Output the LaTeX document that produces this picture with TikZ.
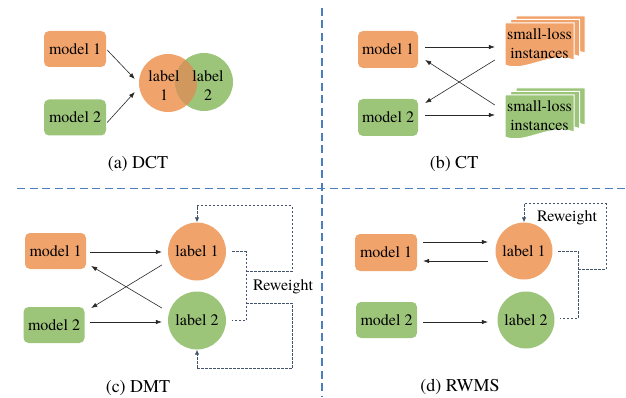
\documentclass[tikz,border=0pt]{standalone}
\usepackage{fontspec}
\setmainfont{texgyretermes-regular.otf}
\usetikzlibrary{arrows.meta,calc}

\definecolor{boxorange}{RGB}{241,163,108}
\definecolor{boxgreen}{RGB}{156,197,122}
\definecolor{mixbrown}{RGB}{208,152,92}
\definecolor{seplinecol}{RGB}{74,126,193}
\definecolor{rwcol}{RGB}{68,84,106}
\definecolor{arrcol}{RGB}{40,40,40}

% one sheet of a stacked-document icon, top-left corner at (#1,#2)
\newcommand\slpage[3]{%
  \fill[#3, draw=white, line width=1pt] (#1,#2) -- ++(69,0) -- ++(0,37)
    .. controls +(-24,-9) and +(20,8) .. ++(-69,5) -- cycle;}
\newcommand\slstack[3]{%
  \slpage{#1+11}{#2-7}{#3}\slpage{#1+5.5}{#2-3.5}{#3}\slpage{#1}{#2}{#3}}

\begin{document}
\begin{tikzpicture}[x=1pt,y=-1pt,
  txt/.style={font=\rmfamily\fontsize{16}{19}\selectfont, text=black},
  captxt/.style={font=\rmfamily\fontsize{18}{21}\selectfont, text=black},
  modelbox/.style={txt, rounded corners=5pt, minimum width=62pt, minimum height=36pt, inner sep=0pt},
  obox/.style={modelbox, fill=boxorange},
  gbox/.style={modelbox, fill=boxgreen},
  lab/.style={txt, circle, minimum size=58pt, inner sep=0pt},
  olab/.style={lab, fill=boxorange},
  glab/.style={lab, fill=boxgreen},
  arr/.style={arrcol, line width=0.6pt, -{Latex[length=6pt,width=4.5pt]}},
  rw/.style={rwcol, line width=0.8pt, dash pattern=on 2.5pt off 1.5pt},
  rwarr/.style={rw, -{Latex[length=5pt,width=4.5pt]}},
  sep/.style={seplinecol, line width=1.6pt, dash pattern=on 8pt off 4.5pt}]
\useasboundingbox (0,0) rectangle (626,398);

% separators between the four panels
\draw[sep] (17,188.5) -- (626,188.5);
\draw[sep] (322,8) -- (322,396);

% ---------------- (a) DCT ----------------
\node[obox] (am1) at (75,49) {model 1};
\node[gbox] (am2) at (75,117.5) {model 2};
\node[olab] (al1) at (168,83) {};
\node[glab] (al2) at (204,82) {};
\begin{scope}
  \clip (168,83) circle (29);
  \fill[mixbrown] (204,82) circle (29);
\end{scope}
\node[txt, align=center] (al1t) at (164,86) {label\\1};
\node[txt, align=center] (al2t) at (208,86) {label\\2};
\draw[arr] ($(am1.east)+(1,1)$) -- ($(al1.west)+(-4,-4)$);
\draw[arr] ($(am2.east)+(1,5)$) -- ($(al1.west)+(-4,9)$);
\node[captxt] (acap) at (138,164) {(a) DCT};

% ---------------- (b) CT ----------------
\node[obox, minimum width=60pt, minimum height=37pt] (bm1) at (388,49.5) {model 1};
\node[gbox, minimum width=60pt, minimum height=37pt] (bm2) at (388,117.5) {model 2};
\slstack{505}{23}{boxorange}
\slstack{505}{95}{boxgreen}
\node[txt, align=center, minimum width=69pt, minimum height=42pt, inner sep=0pt] (bsl1) at (539.5,44) {small-loss\\instances};
\node[txt, align=center, minimum width=69pt, minimum height=42pt, inner sep=0pt] (bsl2) at (539.5,116) {small-loss\\instances};
\draw[arr] ($(bm1.east)+(7,-2.5)$) -- ($(bsl1.west)+(-10,3)$);
\draw[arr] ($(bsl1.west)+(-10,16)$) -- ($(bm2.east)+(7,-14.5)$);
\draw[arr] ($(bsl2.west)+(-10,-11)$) -- ($(bm1.east)+(7,10.5)$);
\draw[arr] ($(bm2.east)+(7,-2.5)$) -- ($(bsl2.west)+(-10,-1)$);
\node[captxt] (bcap) at (454,164) {(b) CT};

% ---------------- (c) DMT ----------------
\node[obox, minimum width=61pt] (cm1) at (55.5,251) {model 1};
\node[gbox, minimum width=61pt] (cm2) at (54,325) {model 2};
\node[olab] (cl1) at (197,251.5) {label 1};
\node[glab] (cl2) at (197,320.5) {label 2};
\draw[arr] ($(cm1.east)+(4,1)$) -- ($(cl1.west)+(-6,0.5)$);
\draw[arr] ($(cl1.west)+(-6,13.5)$) -- ($(cm2.east)+(6.5,-17)$);
\draw[arr] ($(cl2.west)+(-6,-12.5)$) -- ($(cm1.east)+(5,15)$);
\draw[arr] ($(cm2.east)+(5.5,-3)$) -- ($(cl2.west)+(-6,1.5)$);
\draw[rw] ($(cl1.east)+(6,0)$) -| ($(cl2.east)+(20,0)$) -- ($(cl2.east)+(6,0)$);
\draw[rwarr] ($(cl1.east)+(20,19.5)$) -- ++(46,0) |- ($(cl1.north)+(0,-16.5)$) -- (cl1.north);
\draw[rwarr] ($(cl2.east)+(20,-17.5)$) -- ++(46,0) |- ($(cl2.south)+(0,19)$) -- (cl2.south);
\node[txt] (crw) at (283,287) {Reweight};
\node[captxt] (ccap) at (138,388) {(c) DMT};

% ---------------- (d) RWMS ----------------
\node[obox, minimum height=37pt] (dm1) at (386,252.5) {model 1};
\node[gbox, minimum width=61pt] (dm2) at (386.5,320) {model 2};
\node[olab, minimum size=57pt] (dl1) at (524,251) {label 1};
\node[glab, minimum size=57pt] (dl2) at (526,320) {label 2};
\draw[arr] ($(dm1.east)+(6,-10.5)$) -- ($(dl1.west)+(-7.5,-9)$);
\draw[arr] ($(dl1.west)+(-7.5,10)$) -- ($(dm1.east)+(6,8.5)$);
\draw[arr] ($(dm2.east)+(6,2)$) -- ($(dl2.west)+(-9.5,2)$);
\draw[rw] ($(dl1.east)+(5.5,0)$) -| ($(dl2.east)+(23.5,-2)$) -- ($(dl2.east)+(5.5,-2)$);
\draw[rwarr] ($(dl1.east)+(25.5,18)$) -- ++(28,0) |- ($(dl1.north)+(0,-18.5)$) -- (dl1.north);
\node[txt] (drw) at (567,218) {Reweight};
\node[captxt] (dcap) at (460,387) {(d) RWMS};
\end{tikzpicture}
\end{document}
